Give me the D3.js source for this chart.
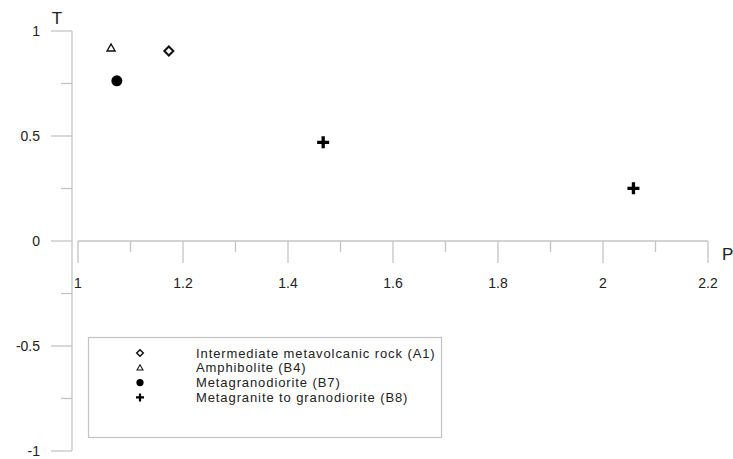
<!DOCTYPE html>
<html><head><meta charset="utf-8">
<script src="https://cdn.jsdelivr.net/npm/d3@7"></script>
<style>body{margin:0;background:#fff}svg{display:block}text{font-family:"Liberation Sans",Arial,sans-serif}</style>
</head><body><svg id="c" width="733" height="459"></svg>
<script>
const seriesNames = ["Intermediate metavolcanic rock (A1)","Amphibolite (B4)","Metagranodiorite (B7)","Metagranite to granodiorite (B8)"];
const seriesSymbols = ["diamond","triangle","circle","cross"];
const seriesP = [[1.173],[1.063],[1.074],[1.467,2.058]];
const seriesT = [[0.905],[0.919],[0.763],[0.47,0.251]];
const xTicks = [1,1.2,1.4,1.6,1.8,2,2.2];
const xMinor = [1.1,1.3,1.5,1.7,1.9,2.1];
const yTicks = [1,0.5,0,-0.5,-1];
const yMinor = [0.75,0.25,-0.25,-0.75];

const svg = d3.select("#c");
const x = d3.scaleLinear().domain([1,2.2]).range([78,708]);
const y = d3.scaleLinear().domain([-1,1]).range([451,31]);
const axisCol = "#c4c4c4";
const txtCol = "#222";

// Y axis (left of x-axis start)
const yAx = svg.append("g");
yAx.append("line").attr("x1",72).attr("x2",72).attr("y1",y(1)).attr("y2",y(-1)).attr("stroke",axisCol).attr("stroke-width",1.3);
yAx.selectAll(".yt").data(yTicks).join("line").attr("x1",51).attr("x2",72).attr("y1",d=>y(d)).attr("y2",d=>y(d)).attr("stroke",axisCol).attr("stroke-width",1.3);
yAx.selectAll(".ym").data(yMinor).join("line").attr("x1",61).attr("x2",72).attr("y1",d=>y(d)).attr("y2",d=>y(d)).attr("stroke",axisCol).attr("stroke-width",1.3);
yAx.selectAll(".yl").data(yTicks).join("text").attr("x",40).attr("y",d=>y(d)).attr("dy","0.35em").attr("text-anchor","end").attr("font-size",14).attr("fill",txtCol).text(d=>d);
svg.append("text").attr("x",57).attr("y",24).attr("text-anchor","middle").attr("font-size",17).attr("fill",txtCol).text("T");

// X axis
const xAx = svg.append("g");
xAx.append("line").attr("x1",x(1)).attr("x2",x(2.2)).attr("y1",y(0)).attr("y2",y(0)).attr("stroke",axisCol).attr("stroke-width",1.3);
xAx.selectAll(".xt").data(xTicks).join("line").attr("x1",d=>x(d)).attr("x2",d=>x(d)).attr("y1",y(0)).attr("y2",y(0)+22).attr("stroke",axisCol).attr("stroke-width",1.3);
xAx.selectAll(".xm").data(xMinor).join("line").attr("x1",d=>x(d)).attr("x2",d=>x(d)).attr("y1",y(0)).attr("y2",y(0)+11).attr("stroke",axisCol).attr("stroke-width",1.3);
xAx.selectAll(".xl").data(xTicks).join("text").attr("x",d=>x(d)).attr("y",y(0)+42).attr("dy","0.35em").attr("text-anchor","middle").attr("font-size",14).attr("fill",txtCol).text(d=>d);
svg.append("text").attr("x",722).attr("y",260).attr("font-size",17).attr("fill",txtCol).text("P");

function drawSym(g, type, cx, cy, s){
  if(type==="diamond"){
    g.append("path").attr("d",`M${cx},${cy-s}L${cx+s},${cy}L${cx},${cy+s}L${cx-s},${cy}Z`).attr("fill","none").attr("stroke","#111").attr("stroke-width",s*0.45);
  } else if(type==="triangle"){
    g.append("path").attr("d",`M${cx},${cy-s}L${cx+s},${cy+s*0.75}L${cx-s},${cy+s*0.75}Z`).attr("fill","none").attr("stroke","#111").attr("stroke-width",s*0.35);
  } else if(type==="circle"){
    g.append("circle").attr("cx",cx).attr("cy",cy).attr("r",s).attr("fill","#000");
  } else {
    g.append("path").attr("d",`M${cx-s},${cy}H${cx+s}M${cx},${cy-s}V${cy+s}`).attr("stroke","#000").attr("stroke-width",s*0.55).attr("fill","none");
  }
}
const sizes = {diamond:4.5,triangle:4,circle:5.5,cross:6};
const pts = svg.append("g");
seriesNames.forEach((n,i)=>{
  seriesP[i].forEach((p,j)=>drawSym(pts, seriesSymbols[i], x(p), y(seriesT[i][j]), sizes[seriesSymbols[i]]));
});

// Legend
const lg = svg.append("g");
lg.append("rect").attr("x",88.5).attr("y",337.5).attr("width",353).attr("height",100).attr("fill","#fff").attr("stroke",axisCol).attr("stroke-width",1.2);
const lsizes = {diamond:3.3,triangle:3,circle:3.6,cross:4};
seriesNames.forEach((n,i)=>{
  const cy = 353 + i*14.8;
  drawSym(lg, seriesSymbols[i], 140, cy, lsizes[seriesSymbols[i]]);
  lg.append("text").attr("x",196).attr("y",cy).attr("dy","0.35em").attr("font-size",13).attr("letter-spacing",0.9).attr("fill",txtCol).text(n);
});
</script></body></html>
